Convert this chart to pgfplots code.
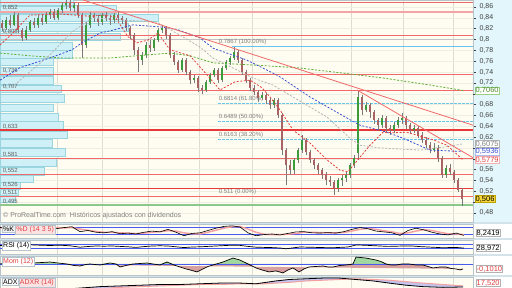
\documentclass[border=0pt]{standalone}
\usepackage{pgfplots}
\pgfplotsset{compat=1.18}
\usepackage{pgfplotstable}
\usepackage{fontspec}
\setmainfont{Liberation Sans}

\definecolor{cream}{HTML}{FFFDF1}
\definecolor{vgrid}{HTML}{DCDCD2}
\definecolor{hgrid}{HTML}{EEEEE2}
\definecolor{rightcyan}{HTML}{E2F6FB}
\definecolor{vpfill}{HTML}{CFF0F6}
\definecolor{vpdraw}{HTML}{9AD4DE}
\definecolor{redline}{HTML}{F06868}
\definecolor{pinkthick}{HTML}{F4A6A6}
\definecolor{redthick}{HTML}{E83838}
\definecolor{greenline}{HTML}{8CC88C}
\definecolor{fibblue}{HTML}{66C4F0}
\definecolor{magreen}{HTML}{5AAE32}
\definecolor{mablue}{HTML}{3A4FD0}
\definecolor{magrey}{HTML}{B4B4B4}
\definecolor{mared}{HTML}{E04040}
\definecolor{upcol}{HTML}{3C9C3C}
\definecolor{downcol}{HTML}{A86464}
\definecolor{wickcol}{HTML}{7A7A7A}
\definecolor{sepcol}{HTML}{D4E2EA}
\definecolor{indblue}{HTML}{4A5AF0}
\definecolor{tickgray}{HTML}{404040}
\definecolor{labgray}{HTML}{606060}
\definecolor{panelborder}{HTML}{B8C4CC}
\definecolor{momgreen}{HTML}{A0D8A0}
\definecolor{momred}{HTML}{D9A0A0}
\definecolor{adxfill}{HTML}{C4C4EE}
\definecolor{pinkline}{HTML}{F4A0A0}

\pgfplotstableread{
x o h l c
2 0.830 0.836 0.815 0.821
6 0.821 0.842 0.818 0.836
10 0.836 0.845 0.822 0.827
14 0.827 0.851 0.825 0.845
18 0.845 0.849 0.812 0.818
22 0.818 0.822 0.797 0.803
26 0.803 0.825 0.799 0.818
30 0.818 0.836 0.814 0.832
34 0.832 0.840 0.821 0.827
38 0.827 0.845 0.822 0.840
42 0.840 0.847 0.827 0.832
46 0.832 0.851 0.829 0.845
50 0.845 0.856 0.838 0.851
54 0.851 0.856 0.836 0.840
58 0.840 0.858 0.836 0.854
62 0.854 0.869 0.849 0.864
66 0.864 0.872 0.856 0.867
70 0.867 0.872 0.853 0.858
74 0.858 0.870 0.851 0.864
78 0.864 0.867 0.840 0.845
82 0.845 0.849 0.766 0.790
86 0.790 0.832 0.784 0.827
90 0.827 0.851 0.821 0.845
94 0.845 0.849 0.832 0.840
98 0.840 0.845 0.825 0.832
102 0.832 0.849 0.827 0.845
106 0.845 0.851 0.834 0.840
110 0.840 0.845 0.827 0.836
114 0.836 0.849 0.831 0.845
118 0.845 0.851 0.834 0.840
122 0.840 0.843 0.829 0.836
126 0.836 0.840 0.816 0.821
130 0.821 0.825 0.801 0.808
134 0.808 0.812 0.772 0.781
138 0.781 0.786 0.740 0.762
142 0.762 0.777 0.753 0.772
146 0.772 0.795 0.766 0.790
150 0.790 0.799 0.777 0.784
154 0.784 0.803 0.779 0.799
158 0.799 0.821 0.795 0.818
162 0.818 0.827 0.812 0.821
166 0.821 0.825 0.801 0.808
170 0.808 0.812 0.766 0.772
174 0.772 0.777 0.753 0.759
178 0.759 0.762 0.738 0.744
182 0.744 0.766 0.740 0.762
186 0.762 0.766 0.735 0.740
190 0.740 0.744 0.718 0.725
194 0.725 0.735 0.720 0.729
198 0.729 0.733 0.703 0.711
202 0.711 0.716 0.699 0.707
206 0.707 0.725 0.703 0.722
210 0.722 0.738 0.718 0.735
214 0.735 0.748 0.731 0.744
218 0.744 0.748 0.720 0.725
222 0.725 0.751 0.722 0.748
226 0.748 0.762 0.744 0.759
230 0.759 0.770 0.753 0.766
234 0.766 0.787 0.762 0.777
238 0.777 0.781 0.757 0.762
242 0.762 0.766 0.735 0.740
246 0.740 0.744 0.720 0.725
250 0.725 0.729 0.705 0.711
254 0.711 0.716 0.698 0.703
258 0.703 0.707 0.685 0.692
262 0.692 0.703 0.688 0.698
266 0.698 0.701 0.681 0.688
270 0.688 0.692 0.672 0.679
274 0.679 0.692 0.674 0.688
278 0.688 0.692 0.655 0.661
282 0.661 0.664 0.587 0.596
286 0.596 0.600 0.532 0.568
290 0.568 0.578 0.550 0.559
294 0.559 0.581 0.552 0.578
298 0.578 0.600 0.572 0.596
302 0.596 0.624 0.590 0.615
306 0.615 0.618 0.587 0.592
310 0.592 0.596 0.572 0.578
314 0.578 0.581 0.561 0.568
318 0.568 0.572 0.552 0.559
322 0.559 0.563 0.543 0.550
326 0.550 0.556 0.532 0.541
330 0.541 0.548 0.530 0.537
334 0.537 0.541 0.513 0.526
338 0.526 0.545 0.519 0.541
342 0.541 0.550 0.530 0.545
346 0.545 0.556 0.537 0.550
350 0.550 0.572 0.545 0.568
354 0.568 0.587 0.563 0.581
358 0.590 0.705 0.578 0.694
362 0.694 0.697 0.661 0.670
366 0.670 0.685 0.666 0.679
370 0.679 0.683 0.655 0.666
374 0.666 0.670 0.645 0.652
378 0.652 0.655 0.633 0.642
382 0.642 0.661 0.637 0.655
386 0.655 0.659 0.629 0.637
390 0.637 0.642 0.624 0.633
394 0.633 0.648 0.627 0.642
398 0.642 0.657 0.637 0.652
402 0.652 0.664 0.645 0.655
406 0.655 0.659 0.635 0.642
410 0.642 0.646 0.627 0.633
414 0.633 0.642 0.627 0.637
418 0.637 0.640 0.618 0.624
422 0.624 0.629 0.609 0.615
426 0.615 0.620 0.600 0.605
430 0.605 0.611 0.590 0.596
434 0.596 0.609 0.592 0.600
438 0.600 0.605 0.574 0.581
442 0.581 0.585 0.545 0.550
446 0.550 0.568 0.545 0.563
450 0.563 0.570 0.550 0.556
454 0.556 0.560 0.535 0.541
458 0.541 0.545 0.519 0.522
462 0.522 0.526 0.492 0.506
}\candles

\pgfplotstableread{
x k d
0 75 70
8 85 78
16 90 84
24 80 85
32 88 86
40 92 88
48 78 85
56 65 75
64 75 72
72 82 75
80 40 62
88 50 52
96 35 42
104 30 35
112 40 35
120 22 30
128 28 28
136 20 24
144 35 28
152 45 35
160 38 40
168 60 48
176 35 45
184 5 30
192 25 22
200 30 20
208 50 35
216 70 52
224 85 70
232 90 82
240 80 85
248 30 62
256 5 35
264 15 18
272 20 14
280 12 15
288 25 18
296 38 25
304 40 35
312 30 35
320 28 32
328 32 30
336 28 30
344 40 33
352 60 45
360 75 60
368 65 68
376 45 60
384 38 48
392 30 38
400 8 25
408 50 30
416 70 45
424 55 58
432 35 50
440 20 35
448 12 22
456 28 20
464 8 15
}\stoch

\pgfplotstableread{
x r
0 55
10 58
20 60
30 62
40 58
50 55
60 58
70 52
80 38
88 45
96 50
104 48
112 50
120 46
128 42
136 36
144 44
152 50
160 52
168 50
176 42
184 34
192 40
200 42
208 46
216 50
224 54
232 58
240 56
248 46
256 38
264 36
272 34
280 30
286 22
292 30
300 40
308 38
316 36
324 34
332 32
340 36
348 40
356 60
364 58
372 54
380 50
388 46
396 48
404 50
412 50
420 44
428 40
436 36
444 32
452 36
458 34
464 29
}\rsi

\pgfplotstableread{
x v
0 0.0
10 0.03
20 0.01
33 0.02
42 0.03
50 0.04
58 0.02
67 0.0
74 -0.03
80 -0.04
86 -0.01
90 0.0
100 -0.02
110 0.02
116 0.0
120 -0.06
126 -0.03
133 0.0
140 0.01
147 0.02
153 0.0
160 -0.02
167 0.04
174 -0.02
180 -0.06
186 -0.10
190 -0.12
197 -0.16
203 -0.10
208 -0.05
213 -0.02
218 0.01
223 0.04
228 0.08
233 0.12
240 0.08
245 0.03
250 -0.02
256 -0.08
262 -0.12
269 -0.16
276 -0.14
283 -0.18
288 -0.12
293 -0.08
299 -0.16
304 -0.10
309 -0.06
316 -0.05
323 -0.04
328 -0.06
333 -0.06
340 -0.03
346 -0.02
350 -0.01
353 0.0
356 0.14
361 0.13
366 0.12
371 0.10
376 0.08
381 0.05
386 0.0
391 -0.02
396 -0.02
402 0.0
409 0.0
416 -0.02
423 -0.02
428 -0.05
433 -0.08
440 -0.06
446 -0.06
451 -0.09
456 -0.10
460 -0.12
463 -0.10
}\mom

\pgfplotsset{
  panel/.style={scale only axis, width=473pt, xmin=0, xmax=473, anchor=south west,
    axis background/.style={fill=cream},
    axis line style={draw=panelborder, line width=0.4pt},
    xtick={57,102,148,199,252,301,351,403,453}, xticklabels={},
    ytick=\empty, xmajorgrids, major x grid style={draw=vgrid, line width=0.4pt},
    xtick style={draw=none}},
  hline/.style={forget plot, line width=0.8pt, draw=redline},
  ma/.style={forget plot, line width=0.8pt, dash pattern=on 2pt off 1.6pt},
}
\tikzset{vbox/.style={font=\fontsize{7.5}{7.5}\selectfont, inner sep=0.5pt, text height=5.3pt, text depth=0.7pt, anchor=west}}

\begin{document}
\begin{tikzpicture}
\useasboundingbox (0pt,0pt) rectangle (512pt,288pt);
\clip (0pt,0pt) rectangle (512pt,288pt);
\fill[sepcol] (0pt,0pt) rectangle (512pt,66pt);
\fill[rightcyan] (473pt,66pt) rectangle (512pt,288pt);
\fill[white] (473pt,50pt) rectangle (512pt,64pt);
\fill[white] (473pt,34pt) rectangle (512pt,48pt);
\fill[white] (473pt,13pt) rectangle (512pt,32pt);
\fill[white] (473pt,-12pt) rectangle (512pt,11pt);

% ---------------- main price panel
\begin{axis}[panel, at={(0pt,66pt)}, height=222pt, ymin=0.4634, ymax=0.8729,
  ytick={0.48,0.52,0.54,0.56,0.62,0.64,0.66,0.68,0.72,0.74,0.76,0.78,0.8,0.82,0.84,0.86},
  extra y ticks={0.5,0.58,0.6,0.7}, extra y tick labels={},
  ytick pos=right, yticklabel pos=right, tick align=outside, major tick length=3pt,
  ytick style={draw=tickgray, line width=0.4pt},
  ymajorgrids, major y grid style={draw=hgrid, line width=0.4pt},
  extra y tick style={grid=major, major grid style={draw=hgrid, line width=0.4pt}},
  yticklabel style={font=\fontsize{7}{8}\selectfont, text=tickgray},
  /pgf/number format/use comma, /pgf/number format/assume math mode=true,
  clip=false]

% volume profile
\addplot[xbar, bar width=7.5pt, fill=vpfill, draw=vpdraw, line width=0.4pt, forget plot] coordinates {
(73,0.869) (116,0.856) (158,0.840) (128,0.823) (120,0.805) (72,0.788) (72,0.773)
(53,0.759) (53,0.742) (53,0.725) (61,0.709) (64,0.692) (53,0.674) (58,0.657)
(63,0.642) (67,0.624) (52,0.609) (65,0.592) (56,0.574) (44,0.557) (33,0.543)
(20,0.530) (18,0.519) (15,0.506)};

% horizontal support/resistance lines
\addplot[forget plot, draw=magrey!80, line width=0.6pt] coordinates {(0,0.8) (473,0.8)};
\addplot[hline] coordinates {(0,0.868) (473,0.868)};
\addplot[hline, draw=pinkthick, line width=1.6pt] coordinates {(0,0.851) (473,0.851)};
\addplot[hline] coordinates {(0,0.808) (473,0.808)};
\addplot[hline] coordinates {(0,0.735) (473,0.735)};
\addplot[hline] coordinates {(0,0.707) (473,0.707)};
\addplot[hline, draw=redthick, line width=1.2pt] coordinates {(0,0.633) (473,0.633)};
\addplot[hline] coordinates {(0,0.581) (473,0.581)};
\addplot[hline] coordinates {(0,0.552) (473,0.552)};
\addplot[hline, draw=redthick, line width=1.1pt] coordinates {(0,0.526) (473,0.526)};
\addplot[hline] coordinates {(0,0.511) (473,0.511)};
\addplot[hline, draw=greenline, line width=1.6pt] coordinates {(0,0.495) (473,0.495)};

% fibonacci levels
\addplot[forget plot, draw=fibblue, line width=0.8pt] coordinates {(232,0.7867) (473,0.7867)};
\addplot[forget plot, draw=fibblue, line width=0.8pt, dash pattern=on 2.5pt off 1.5pt] coordinates {(218,0.6814) (473,0.6814)};
\addplot[forget plot, draw=fibblue, line width=0.8pt, dash pattern=on 2.5pt off 1.5pt] coordinates {(218,0.6489) (473,0.6489)};
\addplot[forget plot, draw=fibblue, line width=0.8pt, dash pattern=on 2.5pt off 1.5pt] coordinates {(218,0.6163) (473,0.6163)};

% labels of levels
\begin{scope}[every node/.style={font=\fontsize{6}{6}\selectfont, text=labgray, inner sep=0.6pt, anchor=south west}]
\node at (axis cs:2,0.852) {0,852};
\node at (axis cs:2,0.808) {0,808};
\node at (axis cs:2,0.736) {0,736};
\node at (axis cs:2,0.707) {0,707};
\node at (axis cs:2,0.633) {0,633};
\node at (axis cs:2,0.581) {0,581};
\node at (axis cs:2,0.552) {0,552};
\node at (axis cs:2,0.526) {0,526};
\node at (axis cs:2,0.511) {0,511};
\node at (axis cs:2,0.495) {0,495};
\node[text=gray] at (axis cs:218,0.7885) {0.7867 (100.00\%)};
\node[text=gray] at (axis cs:218,0.6832) {0.6814 (61.80\%)};
\node[text=gray] at (axis cs:218,0.6507) {0.6489 (50.00\%)};
\node[text=gray] at (axis cs:218,0.6181) {0.6163 (38.20\%)};
\node[text=gray] at (axis cs:218,0.5125) {0.511 (0.00\%)};
\end{scope}

% candles: wicks
\addplot[forget plot, draw=none, mark=none, error bars/.cd, y dir=plus, y explicit, error mark=none,
  error bar style={draw=wickcol, solid, line width=0.6pt}]
  table[x=x, y=l, y error plus expr={\thisrow{h}-\thisrow{l}}] {\candles};
% up bodies
\addplot[forget plot, draw=none, mark=none, restrict expr to domain={\thisrow{c}-\thisrow{o}}{0:1},
  error bars/.cd, y dir=plus, y explicit, error mark=none,
  error bar style={draw=upcol, solid, line width=2.4pt}]
  table[x=x, y=o, y error plus expr={\thisrow{c}-\thisrow{o}}] {\candles};
% down bodies
\addplot[forget plot, draw=none, mark=none, restrict expr to domain={\thisrow{c}-\thisrow{o}}{-1:-0.0001},
  error bars/.cd, y dir=plus, y explicit, error mark=none,
  error bar style={draw=downcol, solid, line width=2.4pt}]
  table[x=x, y=c, y error plus expr={\thisrow{o}-\thisrow{c}}] {\candles};

% moving averages
\addplot[ma, draw=magreen] coordinates {(0,0.775) (30,0.770) (60,0.766) (110,0.766) (150,0.772) (170,0.775) (190,0.770) (213,0.757) (253,0.753) (297,0.748) (343,0.738) (383,0.729) (430,0.716) (463,0.706)};
\addplot[ma, draw=mablue] coordinates {(0,0.725) (20,0.748) (53,0.768) (72,0.781) (82,0.794) (100,0.812) (110,0.816) (133,0.827) (162,0.823) (178,0.818) (200,0.803) (213,0.784) (247,0.762) (273,0.738) (280,0.731) (310,0.694) (350,0.652) (360,0.642) (387,0.629) (403,0.618) (430,0.596) (462,0.5936)};
\addplot[ma, draw=magrey] coordinates {(12,0.711) (20,0.725) (50,0.772) (72,0.814) (93,0.840) (123,0.836) (157,0.832) (180,0.808) (200,0.786) (213,0.766) (253,0.729) (273,0.716) (303,0.683) (327,0.657) (350,0.618) (360,0.605) (380,0.600) (420,0.596) (445,0.602) (463,0.6075)};
\addplot[ma, draw=mared] coordinates {(0,0.790) (13,0.812) (23,0.832) (30,0.845) (60,0.847) (90,0.843) (103,0.845) (115,0.842) (128,0.805) (137,0.794) (148,0.799) (158,0.812) (170,0.781) (190,0.770) (207,0.735) (220,0.707) (235,0.722) (250,0.725) (262,0.711) (270,0.694) (280,0.670) (293,0.633) (310,0.609) (327,0.578) (340,0.559) (348,0.556) (360,0.583) (370,0.605) (383,0.629) (393,0.628) (407,0.629) (423,0.620) (433,0.615) (447,0.605) (463,0.5779)};

% trend lines
\addplot[forget plot, draw=redline, line width=0.8pt] coordinates {(83,0.873) (473,0.642)};
\addplot[forget plot, draw=redline, line width=0.8pt] coordinates {(357,0.707) (473,0.582)};

% value boxes
\node[vbox, fill=white, draw=magreen!60, text=magreen!80!black] at (axis cs:475,0.706) {0,7060};
\node[vbox, fill=white, draw=magrey, text=gray] at (axis cs:475,0.6075) {0,6075};
\node[vbox, fill=white, draw=mablue!40, text=mablue] at (axis cs:475,0.5936) {0,5936};
\node[vbox, fill=white, draw=mared!40, text=mared] at (axis cs:475,0.5779) {0,5779};
\node[vbox, fill={rgb,255:red,248;green,216;blue,56}, draw={rgb,255:red,190;green,160;blue,0}, text=black] at (axis cs:475,0.506) {0,506};
\end{axis}

% ---------------- stochastic
\begin{axis}[panel, at={(0pt,50pt)}, height=14pt, ymin=-14.3, ymax=105.7]
\addplot[forget plot, draw=indblue, line width=0.8pt] coordinates {(0,80) (473,80)};
\addplot[forget plot, draw=indblue, line width=0.8pt] coordinates {(0,20) (473,20)};
\addplot[forget plot, draw=pinkline, line width=1.4pt] table[x=x, y=d] {\stoch};
\addplot[forget plot, draw=black, line width=0.6pt] table[x=x, y=k] {\stoch};
\end{axis}

% ---------------- RSI
\begin{axis}[panel, at={(0pt,34pt)}, height=14pt, ymin=-30, ymax=110]
\addplot[forget plot, draw=indblue, line width=0.8pt] coordinates {(0,70) (473,70)};
\addplot[forget plot, draw=indblue, line width=0.8pt] coordinates {(0,30) (473,30)};
\addplot[forget plot, draw=black, line width=0.7pt] table[x=x, y=r] {\rsi};
\end{axis}

% ---------------- Momentum
\begin{axis}[panel, at={(0pt,13pt)}, height=19pt, ymin=-0.222, ymax=0.1616]
\addplot[forget plot, fill=momgreen, draw=none] table[x=x, y expr={max(\thisrow{v},0)}] {\mom};
\addplot[forget plot, fill=momred, draw=none] table[x=x, y expr={min(\thisrow{v},0)}] {\mom};
\addplot[forget plot, draw=indblue, line width=0.8pt] coordinates {(0,0) (473,0)};
\addplot[forget plot, draw=black, line width=0.7pt] table[x=x, y=v] {\mom};
\end{axis}

% ---------------- ADX
\begin{axis}[panel, at={(0pt,-12pt)}, height=23pt, ymin=-0.68, ymax=31.5]
\addplot[forget plot, fill=adxfill, draw=none] coordinates {
(0,14) (20,13) (40,12) (60,14) (80,16) (100,18) (120,19) (140,20) (160,21) (180,21) (200,22) (220,23) (240,23) (256,22) (266,24) (276,26) (289,28) (306,29) (323,30) (339,30) (356,28) (373,26) (389,23) (406,20) (423,18) (443,17) (463,17.5)
(463,19) (443,21) (423,23) (406,25) (389,27) (373,28) (356,29) (339,28) (323,27) (306,26) (289,24) (276,23) (266,22) (256,22) (240,22) (220,21) (200,21) (180,20) (160,19) (140,18) (120,17) (100,15) (80,14) (60,13) (40,14) (20,15) (0,15)};
\addplot[forget plot, draw=pinkline, line width=1.0pt] coordinates {
(0,15) (20,15) (40,14) (60,13) (80,14) (100,15) (120,17) (140,18) (160,19) (180,20) (200,21) (220,21) (240,22) (256,22) (266,22) (276,23) (289,24) (306,26) (323,27) (339,28) (356,29) (373,28) (389,27) (406,25) (423,23) (443,21) (463,19)};
\addplot[forget plot, draw=black, line width=0.8pt] coordinates {
(0,14) (20,13) (40,12) (60,14) (80,16) (100,18) (120,19) (140,20) (160,21) (180,21) (200,22) (220,23) (240,23) (256,22) (266,24) (276,26) (289,28) (306,29) (323,30) (339,30) (356,28) (373,26) (389,23) (406,20) (423,18) (443,17) (463,17.5)};
\end{axis}

% ---------------- texts
\node[anchor=west, font=\fontsize{7}{7}\selectfont, text=gray, inner sep=0pt] at (3pt,72pt) {© ProRealTime.com\ \ Históricos ajustados con dividendos};

\begin{scope}[every node/.style={font=\fontsize{7}{7}\selectfont, inner sep=1pt, draw=panelborder, anchor=north west}]
\node[fill=gray!12, text=black] (k) at (2pt,63pt) {\%K};
\node[fill={rgb,255:red,251;green,227;blue,227}, text=mared, anchor=north west] at (k.north east) {\%D (14 3 5)};
\node[fill=white, text=black] at (2pt,47pt) {RSI (14)};
\node[fill=white, text=mared] at (2pt,31pt) {Mom (12)};
\node[fill=white, text=black] (a) at (2pt,10pt) {ADX};
\node[fill={rgb,255:red,251;green,227;blue,227}, text=mared, anchor=north west] at (a.north east) {ADXR (14)};
\end{scope}

\begin{scope}[every node/.style={vbox, fill=white, draw=gray!60}]
\node[text=black] at (476pt,55pt) {8,2419};
\node[text=black] at (476pt,40pt) {28,972};
\node[text=mared] at (476pt,19pt) {-0,1010};
\node[text=mared] at (476pt,5pt) {17,520};
\end{scope}
\end{tikzpicture}
\end{document}
